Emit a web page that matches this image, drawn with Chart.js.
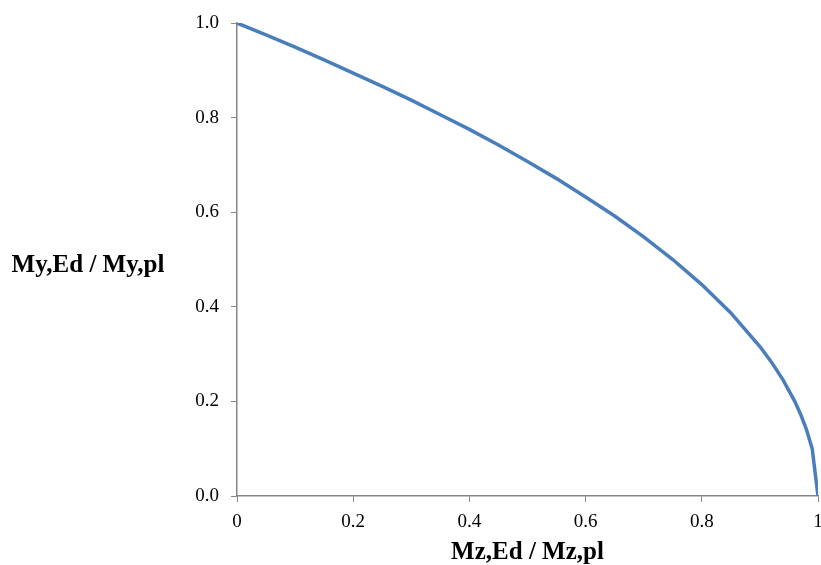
<!DOCTYPE html>
<html>
<head>
<meta charset="utf-8">
<script src="https://cdn.jsdelivr.net/npm/chart.js@4"></script>
<style>
  html, body { margin: 0; padding: 0; background: #ffffff; }
  #wrap { width: 821px; height: 565px; }
</style>
</head>
<body>
<div id="wrap"><canvas id="c" width="821" height="565"></canvas></div>
<script>
// Data
const mzValues = [0.00, 0.05, 0.10, 0.15, 0.20, 0.25, 0.30, 0.35, 0.40, 0.45, 0.50, 0.55, 0.60,
                  0.65, 0.70, 0.75, 0.80, 0.85, 0.90, 0.92, 0.94, 0.96, 0.97, 0.98, 0.99, 1.00];
const myValues = [1.000, 0.975, 0.949, 0.922, 0.894, 0.866, 0.837, 0.806, 0.775, 0.742, 0.707, 0.671, 0.632,
                  0.592, 0.548, 0.500, 0.447, 0.387, 0.316, 0.283, 0.245, 0.200, 0.173, 0.141, 0.100, 0.000];
const xTickValues = [0, 0.2, 0.4, 0.6, 0.8, 1];
const xTickLabels = ["0", "0.2", "0.4", "0.6", "0.8", "1"];
const yTickLabels = ["0.0", "0.2", "0.4", "0.6", "0.8", "1.0"];
const xTitle = "Mz,Ed / Mz,pl";
const yTitle = "My,Ed / My,pl";

const FONT = '"Liberation Serif", "Times New Roman", serif';
const AXIS = '#868686';

const points = mzValues.map((x, i) => ({ x: x, y: myValues[i] }));

const yTitlePlugin = {
  id: 'yTitle',
  afterDraw(chart) {
    const ctx = chart.ctx;
    ctx.save();
    ctx.font = 'bold 25px ' + FONT;
    ctx.fillStyle = '#000000';
    ctx.textAlign = 'center';
    ctx.textBaseline = 'middle';
    ctx.fillText(yTitle, 88, 266);
    ctx.restore();
  }
};

new Chart(document.getElementById('c'), {
  type: 'scatter',
  data: {
    datasets: [{
      data: points,
      showLine: true,
      borderColor: '#4A7EBB',
      backgroundColor: '#4A7EBB',
      borderWidth: 3.5,
      pointRadius: 0,
      tension: 0,
      fill: false
    }]
  },
  options: {
    responsive: false,
    animation: false,
    layout: { padding: { top: 23, right: 3, bottom: 0, left: 0 } },
    plugins: { legend: { display: false }, tooltip: { enabled: false } },
    scales: {
      x: {
        type: 'linear',
        min: 0, max: 1,
        afterBuildTicks(scale) { scale.ticks = xTickValues.map(v => ({ value: v })); },
        afterFit(scale) { scale.height = 69; scale.paddingLeft = 0; scale.paddingRight = 0; },
        ticks: {
          font: { family: FONT, size: 19 },
          color: '#000000',
          padding: 9,
          maxRotation: 0,
          callback(v) { const i = xTickValues.indexOf(v); return i >= 0 ? xTickLabels[i] : ''; }
        },
        grid: { drawOnChartArea: false, drawTicks: true, tickLength: 6, color: AXIS, lineWidth: 1 },
        border: { display: true, color: AXIS, width: 1.5 },
        title: {
          display: true, text: xTitle, color: '#000000',
          font: { family: FONT, size: 25, weight: 'bold', lineHeight: 0.8 },
          padding: { top: 0, bottom: 2 }
        }
      },
      y: {
        type: 'linear',
        min: 0, max: 1,
        afterBuildTicks(scale) { scale.ticks = xTickValues.map(v => ({ value: v })); },
        afterFit(scale) { scale.width = 237; scale.paddingTop = 0; scale.paddingBottom = 0; },
        ticks: {
          font: { family: FONT, size: 19 },
          color: '#000000',
          padding: 12,
          callback(v) { const i = xTickValues.indexOf(v); return i >= 0 ? yTickLabels[i] : ''; }
        },
        grid: { drawOnChartArea: false, drawTicks: true, tickLength: 6, color: AXIS, lineWidth: 1 },
        border: { display: true, color: AXIS, width: 1.5 }
      }
    }
  },
  plugins: [yTitlePlugin]
});
</script>
</body>
</html>
